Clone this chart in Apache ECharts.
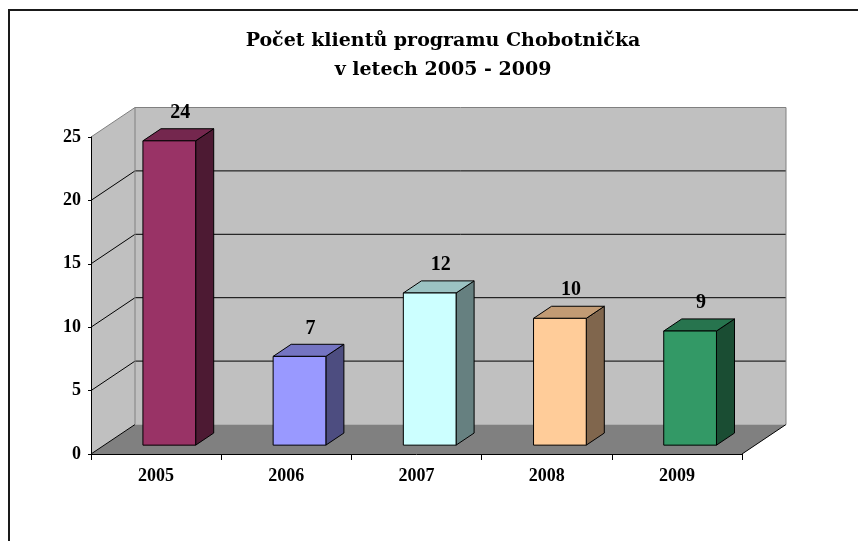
<!DOCTYPE html>
<html>
<head>
<meta charset="utf-8">
<script src="https://cdn.jsdelivr.net/npm/echarts@6/dist/echarts.min.js"></script>
<style>
html, body { margin: 0; padding: 0; background: #fff; }
#chart { width: 858px; height: 541px; }
</style>
</head>
<body>
<div id="chart"></div>
<script>
// data
var years = ['2005', '2006', '2007', '2008', '2009'];
var clients = [24, 7, 12, 10, 9];
var yTicks = [0, 5, 10, 15, 20, 25];
var titleLines = ['Počet klientů programu Chobotnička', 'v letech 2005 - 2009'];

// look of the fake 3d
var barColors = ['#993366', '#9999ff', '#ccffff', '#ffcc99', '#339966'];
var depth = [44, -29.5];
var barFront = 0.3, barBack = 0.71, barWidth = 0.405;
var serif = 'Liberation Serif';

function shade(hex, k) {
    var n = parseInt(hex.slice(1), 16);
    var r = Math.round(((n >> 16) & 255) * k);
    var g = Math.round(((n >> 8) & 255) * k);
    var b = Math.round((n & 255) * k);
    return 'rgb(' + r + ',' + g + ',' + b + ')';
}

function line(points, color) {
    return { type: 'polyline', shape: { points: points }, style: { stroke: color, lineWidth: 1, fill: null } };
}

function renderWalls(params, api) {
    var cs = params.coordSys;
    var x0 = cs.x, x1 = cs.x + cs.width;
    var dx = depth[0], dy = depth[1];
    var yb = api.coord([0, 0])[1];
    var yt = api.coord([0, yTicks[yTicks.length - 1]])[1];
    var kids = [
        { type: 'polygon', shape: { points: [[x0, yb], [x0, yt], [x0 + dx, yt + dy], [x0 + dx, yb + dy]] }, style: { fill: '#c0c0c0' } },
        { type: 'polygon', shape: { points: [[x0 + dx, yt + dy], [x1 + dx, yt + dy], [x1 + dx, yb + dy], [x0 + dx, yb + dy]] }, style: { fill: '#c0c0c0' } },
        { type: 'polygon', shape: { points: [[x0, yb], [x1, yb], [x1 + dx, yb + dy], [x0 + dx, yb + dy]] }, style: { fill: '#808080' } }
    ];
    yTicks.forEach(function (v, k) {
        var y = api.coord([0, v])[1];
        if (k === 0) {
            kids.push(line([[x0, y], [x0 + dx, y + dy]], '#000'));
            kids.push(line([[x1, y], [x1 + dx, y + dy]], '#000'));
        } else if (k === yTicks.length - 1) {
            kids.push(line([[x0, y], [x0 + dx, y + dy], [x1 + dx, y + dy], [x1 + dx, yb + dy]], '#808080'));
            kids.push(line([[x0 + dx, y + dy], [x0 + dx, yb + dy]], '#808080'));
        } else {
            kids.push(line([[x0, y], [x0 + dx, y + dy], [x1 + dx, y + dy]], '#000'));
        }
    });
    return { type: 'group', children: kids };
}

function renderBar(params, api) {
    var i = api.value(0), v = api.value(1);
    var base = api.coord([i, 0]), top = api.coord([i, v]);
    var w = api.size([1, 0])[0] * barWidth;
    var dx = depth[0], dy = depth[1];
    var xl = base[0] - w / 2 + dx * barFront, xr = xl + w;
    var yTop = top[1] + dy * barFront, yBot = base[1] + dy * barFront;
    var ddx = dx * (barBack - barFront), ddy = dy * (barBack - barFront);
    var c = barColors[params.dataIndex];
    var mid = (barFront + barBack) / 2;
    return {
        type: 'group',
        children: [
            { type: 'polygon', shape: { points: [[xr, yTop], [xr + ddx, yTop + ddy], [xr + ddx, yBot + ddy], [xr, yBot]] },
              style: { fill: shade(c, 0.5), stroke: '#000', lineWidth: 1 } },
            { type: 'polygon', shape: { points: [[xl, yTop], [xl + ddx, yTop + ddy], [xr + ddx, yTop + ddy], [xr, yTop]] },
              style: { fill: shade(c, 0.76), stroke: '#000', lineWidth: 1 } },
            { type: 'rect', shape: { x: xl, y: yTop, width: w, height: yBot - yTop },
              style: { fill: c, stroke: '#000', lineWidth: 1 } },
            { type: 'text', x: base[0] + dx * mid + 2, y: top[1] + dy * mid - 22,
              style: { text: String(v), fill: '#000', font: 'bold 20px "' + serif + '"', align: 'center', verticalAlign: 'middle' } }
        ]
    };
}

var chart = echarts.init(document.getElementById('chart'));
chart.setOption({
    backgroundColor: '#fff',
    animation: false,
    title: {
        text: titleLines.join('\n'),
        left: 438,
        top: 22,
        textAlign: 'center',
        textStyle: { fontFamily: 'DejaVu Serif', fontWeight: 'bold', fontSize: 19, lineHeight: 29, color: '#000' }
    },
    graphic: [
        { type: 'rect', shape: { x: 9, y: 10, width: 1000, height: 1000 }, style: { fill: null, stroke: '#1a1a1a', lineWidth: 2 }, silent: true }
    ],
    grid: { left: 91, right: 116, top: 137, bottom: 87, containLabel: false, outerBoundsMode: 'none' },
    xAxis: {
        type: 'category',
        data: years,
        boundaryGap: true,
        z: 10,
        axisLine: { lineStyle: { color: '#000', width: 1 } },
        axisTick: { show: true, length: 6, lineStyle: { color: '#000' } },
        axisLabel: { margin: 13, color: '#000', fontFamily: serif, fontWeight: 'bold', fontSize: 18 },
        splitLine: { show: false }
    },
    yAxis: {
        type: 'value',
        min: 0,
        max: 25,
        interval: 5,
        z: 10,
        axisLine: { show: true, lineStyle: { color: '#000', width: 1 } },
        axisTick: { show: true, length: 3, lineStyle: { color: '#000' } },
        axisLabel: { margin: 10, padding: [4, 0, 0, 0], color: '#000', fontFamily: serif, fontWeight: 'bold', fontSize: 18 },
        splitLine: { show: false }
    },
    series: [
        { type: 'custom', coordinateSystem: 'cartesian2d', renderItem: renderWalls, data: [[0, 0]], silent: true, z: 1 },
        { type: 'custom', coordinateSystem: 'cartesian2d', renderItem: renderBar,
          data: clients.map(function (v, i) { return [i, v]; }), encode: { x: 0, y: 1 }, z: 2 }
    ]
});
</script>
</body>
</html>
